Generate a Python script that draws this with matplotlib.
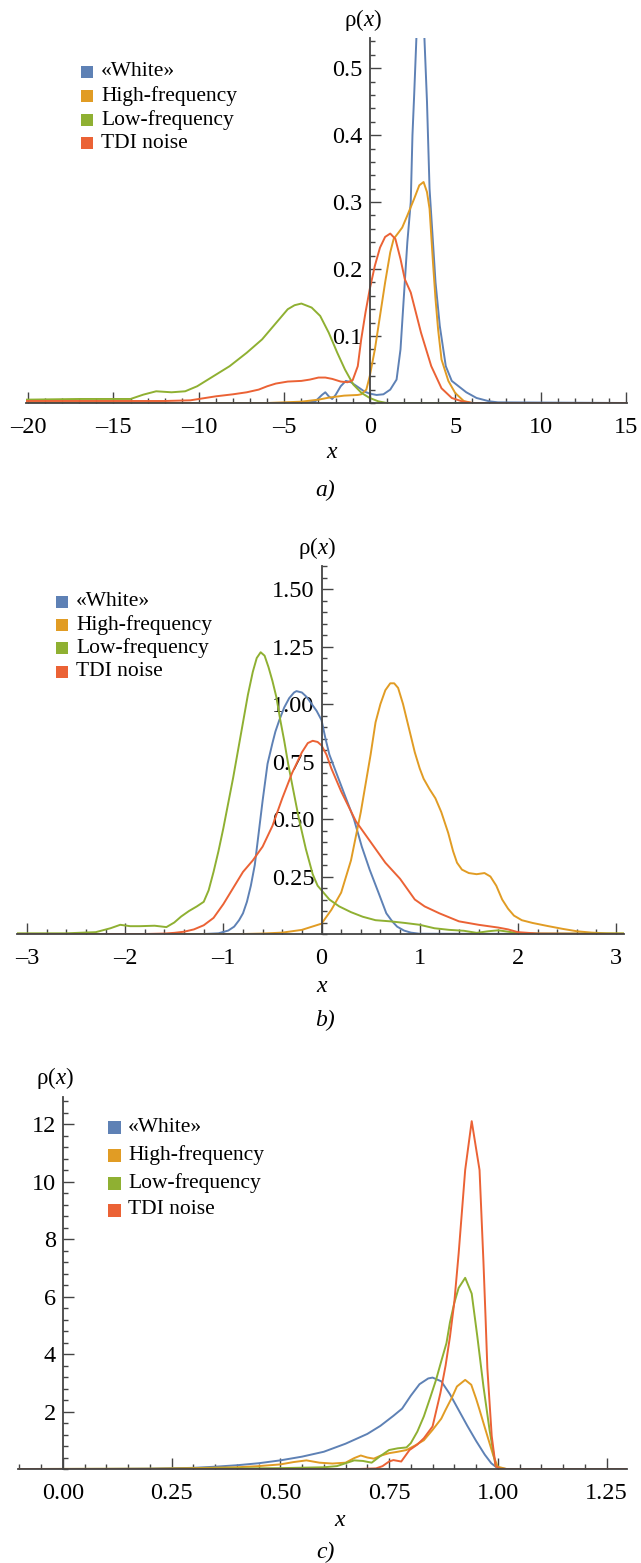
import matplotlib
matplotlib.use("Agg")
import matplotlib.pyplot as plt
from matplotlib.patches import Rectangle
from matplotlib.ticker import FixedLocator, MultipleLocator

plt.rcParams['font.family'] = ['Liberation Serif', 'DejaVu Serif']
plt.rcParams['mathtext.fontset'] = 'custom'
plt.rcParams['mathtext.rm'] = 'Liberation Serif'
plt.rcParams['mathtext.it'] = 'Liberation Serif:italic'

W, H = 641, 1563

series_names = ['«White»', 'High-frequency', 'Low-frequency', 'TDI noise']
series_colors = ['#5E81B5', '#E19C24', '#8FB032', '#EB6235']

# ---- panel a) ----
a_white_x = [-20.1, -4, -3.2, -2.8, -2.6, -2.4, -2.2, -2.0, -1.7, -1.4, -1.1, -0.7, -0.3, 0, 0.4, 0.8, 1.2,
             1.57, 1.8, 2.05, 2.2, 2.4, 2.5, 2.6, 2.73, 2.9, 3.0, 3.1, 3.2, 3.35, 3.5, 3.6, 3.85, 4.1, 4.45,
             4.8, 5.2, 5.65, 6.25, 7.0, 7.5, 15.05]
a_white_y = [0, 0, 0.002, 0.012, 0.016, 0.01, 0.006, 0.012, 0.025, 0.033, 0.031, 0.024, 0.017, 0.014, 0.012,
             0.013, 0.02, 0.035, 0.08, 0.18, 0.24, 0.3, 0.4, 0.46, 0.545, 0.62, 0.64, 0.62, 0.545, 0.45, 0.32,
             0.28, 0.18, 0.115, 0.055, 0.033, 0.025, 0.016, 0.0075, 0.0025, 0.001, 0]

a_high_x = [-20.1, -6, -4, -3, -2.4, -1.5, -0.7, -0.5, -0.2, 0, 0.3, 0.6, 0.9, 1.2, 1.4, 1.7, 1.9, 2.2, 2.6,
            2.9, 3.15, 3.35, 3.5, 3.6, 3.7, 3.85, 4.0, 4.2, 4.6, 5.0, 5.5, 6.0, 15.05]
a_high_y = [0, 0, 0.002, 0.005, 0.008, 0.011, 0.012, 0.013, 0.02, 0.04, 0.08, 0.13, 0.18, 0.225, 0.245, 0.255,
            0.262, 0.28, 0.305, 0.325, 0.33, 0.315, 0.29, 0.25, 0.21, 0.155, 0.11, 0.065, 0.033, 0.015, 0.003,
            0, 0]

a_low_x = [-20.1, -17, -15, -14, -13.25, -12.5, -11.6, -10.8, -10.1, -9.15, -8.2, -7.2, -6.3, -5.3, -4.8,
           -4.4, -4.0, -3.4, -2.9, -2.4, -1.9, -1.45, -0.96, -0.48, 0, 0.5, 1.0, 15.05]
a_low_y = [0.005, 0.006, 0.006, 0.006, 0.0125, 0.0175, 0.016, 0.0175, 0.025, 0.04, 0.055, 0.075, 0.095, 0.125,
           0.14, 0.146, 0.1485, 0.1425, 0.13, 0.105, 0.075, 0.05, 0.0275, 0.015, 0.0075, 0.0025, 0, 0]

a_tdi_x = [-20.1, -15, -12, -10.5, -10, -9, -8, -7.2, -6.5, -6, -5.5, -4.8, -4, -3.5, -3, -2.6, -2.2, -1.7,
           -1.3, -1.0, -0.7, -0.5, -0.25, 0, 0.3, 0.6, 0.9, 1.2, 1.5, 1.8, 2.05, 2.4, 3.0, 3.6, 4.2, 4.8, 5.4,
           6.0, 15.05]
a_tdi_y = [0.003, 0.003, 0.003, 0.004, 0.006, 0.01, 0.013, 0.016, 0.02, 0.025, 0.029, 0.032, 0.033, 0.035,
           0.038, 0.038, 0.036, 0.032, 0.031, 0.034, 0.055, 0.095, 0.135, 0.17, 0.205, 0.232, 0.248, 0.253,
           0.245, 0.215, 0.185, 0.165, 0.105, 0.055, 0.022, 0.0075, 0.0025, 0, 0]

# ---- panel b) ----
b_white_x = [-3.1, -1.2, -1.05, -0.95, -0.89, -0.84, -0.8, -0.76, -0.72, -0.68, -0.64, -0.6, -0.55, -0.5,
             -0.47, -0.43, -0.38, -0.33, -0.28, -0.255, -0.2, -0.15, -0.1, -0.05, 0, 0.04, 0.08, 0.16, 0.24,
             0.33, 0.41, 0.49, 0.58, 0.66, 0.72, 0.77, 0.84, 0.91, 1.0, 3.08]
b_white_y = [0, 0, 0.003, 0.015, 0.032, 0.06, 0.09, 0.14, 0.21, 0.3, 0.44, 0.58, 0.74, 0.83, 0.88, 0.93, 0.985,
             1.025, 1.05, 1.056, 1.05, 1.03, 1.0, 0.97, 0.93, 0.85, 0.78, 0.69, 0.6, 0.5, 0.38, 0.28, 0.18,
             0.09, 0.055, 0.032, 0.015, 0.006, 0.001, 0]

b_high_x = [-3.1, -0.8, -0.6, -0.4, -0.2, 0, 0.05, 0.1, 0.2, 0.3, 0.4, 0.5, 0.55, 0.6, 0.65, 0.7, 0.74,
            0.78, 0.83, 0.87, 0.91, 0.95, 1.0, 1.04, 1.1, 1.16, 1.22, 1.29, 1.34, 1.38, 1.43, 1.5, 1.58, 1.66,
            1.72, 1.78, 1.84, 1.9, 1.96, 2.04, 2.15, 2.3, 2.46, 2.6, 2.75, 2.9, 3.08]
b_high_y = [0, 0, 0.002, 0.006, 0.018, 0.045, 0.075, 0.105, 0.18, 0.32, 0.53, 0.78, 0.92, 1.0, 1.06, 1.09,
            1.09, 1.07, 1.0, 0.93, 0.86, 0.79, 0.72, 0.675, 0.63, 0.59, 0.53, 0.44, 0.36, 0.31, 0.28, 0.265,
            0.26, 0.265, 0.25, 0.21, 0.15, 0.11, 0.08, 0.06, 0.048, 0.035, 0.022, 0.012, 0.006, 0.003, 0.002]

b_low_x = [-3.1, -2.6, -2.3, -2.15, -2.05, -1.95, -1.85, -1.7, -1.58, -1.5, -1.43, -1.35, -1.27, -1.2,
           -1.15, -1.1, -1.05, -1.0, -0.95, -0.9, -0.85, -0.8, -0.75, -0.7, -0.66, -0.62, -0.58, -0.54, -0.5,
           -0.46, -0.42, -0.38, -0.34, -0.29, -0.23, -0.16, -0.09, -0.04, 0, 0.08, 0.18, 0.3, 0.42, 0.55,
           0.7, 0.85, 1.0, 1.15, 1.3, 1.45, 1.58, 1.7, 1.8, 1.9, 2.0, 2.2, 3.08]
b_low_y = [0.003, 0.003, 0.008, 0.025, 0.04, 0.034, 0.034, 0.036, 0.03, 0.05, 0.076, 0.1, 0.12, 0.14, 0.19,
           0.27, 0.36, 0.46, 0.57, 0.68, 0.8, 0.92, 1.04, 1.14, 1.2, 1.225, 1.21, 1.16, 1.1, 1.03, 0.93, 0.84,
           0.74, 0.63, 0.5, 0.37, 0.26, 0.21, 0.19, 0.15, 0.12, 0.095, 0.075, 0.06, 0.055, 0.048, 0.04, 0.025,
           0.018, 0.014, 0.005, 0.012, 0.016, 0.01, 0.004, 0.002, 0.002]

b_tdi_x = [-3.1, -1.8, -1.6, -1.5, -1.4, -1.3, -1.2, -1.1, -1.0, -0.9, -0.8, -0.7, -0.6, -0.5, -0.4, -0.3,
           -0.2, -0.14, -0.09, -0.04, 0, 0.05, 0.1, 0.2, 0.35, 0.5, 0.65, 0.8, 0.95, 1.05, 1.2, 1.4, 1.6, 1.8,
           1.9, 2.0, 2.2, 3.08]
b_tdi_y = [0, 0, 0.002, 0.005, 0.01, 0.02, 0.038, 0.07, 0.13, 0.2, 0.27, 0.32, 0.38, 0.47, 0.59, 0.7, 0.79,
           0.83, 0.84, 0.835, 0.82, 0.78, 0.72, 0.62, 0.49, 0.4, 0.31, 0.24, 0.15, 0.12, 0.09, 0.055, 0.04,
           0.028, 0.02, 0.008, 0.002, 0]

# ---- panel c) ----
c_white_x = [-0.1, 0.1, 0.2, 0.3, 0.35, 0.4, 0.45, 0.5, 0.55, 0.6, 0.65, 0.7, 0.73, 0.76, 0.78, 0.8, 0.82,
             0.84, 0.85, 0.87, 0.89, 0.91, 0.93, 0.95, 0.97, 0.985, 1.0, 1.02, 1.3]
c_white_y = [0, 0.002, 0.01, 0.04, 0.08, 0.13, 0.2, 0.3, 0.43, 0.6, 0.88, 1.22, 1.5, 1.85, 2.1, 2.55, 2.95,
             3.15, 3.18, 3.05, 2.6, 2.05, 1.5, 0.98, 0.5, 0.2, 0.02, 0, 0]

c_high_x = [-0.1, 0.2, 0.3, 0.4, 0.45, 0.5, 0.53, 0.56, 0.59, 0.62, 0.65, 0.67, 0.685, 0.7, 0.715, 0.73,
            0.75, 0.77, 0.79, 0.81, 0.83, 0.85, 0.87, 0.88, 0.895, 0.906, 0.925, 0.939, 0.95, 0.958, 0.97,
            0.981, 0.99, 1.0, 1.02, 1.3]
c_high_y = [0, 0.01, 0.03, 0.06, 0.1, 0.16, 0.24, 0.3, 0.22, 0.19, 0.22, 0.38, 0.47, 0.4, 0.36, 0.46, 0.55,
            0.6, 0.66, 0.82, 1.0, 1.36, 1.75, 2.06, 2.5, 2.87, 3.1, 2.93, 2.45, 2.06, 1.45, 0.9, 0.45, 0.08,
            0, 0]

c_low_x = [-0.1, 0.3, 0.5, 0.6, 0.63, 0.65, 0.67, 0.69, 0.71, 0.73, 0.75, 0.77, 0.79, 0.8, 0.815, 0.83,
           0.845, 0.858, 0.87, 0.882, 0.89, 0.9, 0.91, 0.925, 0.94, 0.953, 0.967, 0.981, 0.995, 1.005, 1.02,
           1.3]
c_low_y = [0, 0.01, 0.03, 0.06, 0.1, 0.2, 0.3, 0.28, 0.22, 0.45, 0.66, 0.72, 0.75, 0.9, 1.3, 1.83, 2.5, 3.1,
           3.75, 4.38, 5.1, 5.78, 6.3, 6.65, 6.1, 4.6, 2.87, 1.36, 0.1, 0.01, 0, 0]

c_tdi_x = [-0.1, 0.68, 0.72, 0.735, 0.75, 0.76, 0.778, 0.797, 0.815, 0.83, 0.85, 0.868, 0.88, 0.89, 0.9,
           0.91, 0.925, 0.94, 0.958, 0.967, 0.972, 0.976, 0.986, 0.995, 1.005, 1.02, 1.3]
c_tdi_y = [0, 0, 0.02, 0.1, 0.26, 0.31, 0.26, 0.66, 0.85, 1.07, 1.48, 2.64, 3.6, 4.6, 5.8, 7.5, 10.4, 12.1,
           10.4, 7.2, 5.2, 3.5, 1.15, 0.1, 0.01, 0, 0]

a_xticks = [-20, -15, -10, -5, 0, 5, 10, 15]
a_yticks = [0.1, 0.2, 0.3, 0.4, 0.5]
a_ylabels = ['0.1', '0.2', '0.3', '0.4', '0.5']
b_xticks = [-3, -2, -1, 0, 1, 2, 3]
b_yticks = [0.25, 0.5, 0.75, 1.0, 1.25, 1.5]
b_ylabels = ['0.25', '0.50', '0.75', '1.00', '1.25', '1.50']
c_xticks = [0, 0.25, 0.5, 0.75, 1.0, 1.25]
c_xlabels = ['0.00', '0.25', '0.50', '0.75', '1.00', '1.25']
c_yticks = [2, 4, 6, 8, 10, 12]
c_ylabels = ['2', '4', '6', '8', '10', '12']

AXIS_COLOR = '#444444'


def fx(x):
    return x / W


def fy(y):
    return 1 - y / H


def make_axes(fig, left, right, top, bottom):
    '''Axes box from pixel edges.'''
    return fig.add_axes([fx(left), fy(bottom), (right - left) / W, (bottom - top) / H])


def style_axes(ax, xlim, ylim, xticks, xlabels, yticks, ylabels, xminor, yminor):
    ax.set_xlim(*xlim)
    ax.set_ylim(*ylim)
    for side in ['top', 'right']:
        ax.spines[side].set_visible(False)
    ax.spines['left'].set_position(('data', 0))
    ax.spines['bottom'].set_position(('data', 0))
    for side in ['left', 'bottom']:
        ax.spines[side].set_color(AXIS_COLOR)
        ax.spines[side].set_linewidth(1.3)
    ax.xaxis.set_major_locator(FixedLocator(xticks))
    ax.xaxis.set_minor_locator(MultipleLocator(xminor))
    ax.yaxis.set_major_locator(FixedLocator(yticks))
    ax.yaxis.set_minor_locator(MultipleLocator(yminor))
    ax.set_xticklabels(xlabels)
    ax.set_yticklabels(ylabels)
    ax.tick_params(which='both', direction='in', color=AXIS_COLOR, width=1.0, labelsize=17.5)
    ax.tick_params(which='major', length=8)
    ax.tick_params(which='minor', length=3.5)
    ax.tick_params(axis='x', which='major', pad=10)
    ax.tick_params(axis='y', which='major', pad=5)
    ax.patch.set_alpha(0)


def draw_legend(fig, sq_left, text_left, rows, size=12):
    for name, color, yc in zip(series_names, series_colors, rows):
        fig.add_artist(Rectangle((fx(sq_left), fy(yc + size / 2)), size / W, size / H,
                                 transform=fig.transFigure, facecolor=color, edgecolor='none'))
        fig.text(fx(text_left), fy(yc), name, fontsize=15.5, ha='left', va='center')


fig = plt.figure(figsize=(W / 100, H / 100), dpi=100)

# a) wide range
ax_a = make_axes(fig, 26.3, 626.9, 38, 403)
for xs, ys, col in zip([a_white_x, a_high_x, a_low_x, a_tdi_x],
                       [a_white_y, a_high_y, a_low_y, a_tdi_y], series_colors):
    ax_a.plot(xs, ys, color=col, lw=1.4)
style_axes(ax_a, (-20.1, 15.05), (0, 0.545), a_xticks,
           [str(t).replace('-', '–') for t in a_xticks], a_yticks, a_ylabels, 1, 0.02)
fig.text(fx(363), fy(20), 'ρ($x$)', fontsize=16.5, ha='center', va='center')
fig.text(fx(332), fy(453), 'x', fontsize=17, style='italic', ha='center', va='center')
fig.text(fx(325), fy(490), 'a)', fontsize=17, style='italic', ha='center', va='center')
draw_legend(fig, 81, 101, [72, 96, 120, 143])

# b) normalised range
ax_b = make_axes(fig, 17.2, 623.9, 566, 934)
for xs, ys, col in zip([b_white_x, b_high_x, b_low_x, b_tdi_x],
                       [b_white_y, b_high_y, b_low_y, b_tdi_y], series_colors):
    ax_b.plot(xs, ys, color=col, lw=1.4)
style_axes(ax_b, (-3.1, 3.08), (0, 1.6), b_xticks,
           [str(t).replace('-', '–') for t in b_xticks], b_yticks, b_ylabels, 0.2, 0.05)
fig.text(fx(317), fy(548), 'ρ($x$)', fontsize=16.5, ha='center', va='center')
fig.text(fx(322), fy(987), 'x', fontsize=17, style='italic', ha='center', va='center')
fig.text(fx(325), fy(1020), 'b)', fontsize=17, style='italic', ha='center', va='center')
draw_legend(fig, 56, 76, [602, 625, 648, 672])

# c) unit range
ax_c = make_axes(fig, 18.0, 627.0, 1097, 1469)
for xs, ys, col in zip([c_white_x, c_high_x, c_low_x, c_tdi_x],
                       [c_white_y, c_high_y, c_low_y, c_tdi_y], series_colors):
    ax_c.plot(xs, ys, color=col, lw=1.4)
style_axes(ax_c, (-0.103, 1.297), (0, 12.94), c_xticks, c_xlabels,
           c_yticks, c_ylabels, 0.05, 0.4)
fig.text(fx(55), fy(1078), 'ρ($x$)', fontsize=16.5, ha='center', va='center')
fig.text(fx(340), fy(1520), 'x', fontsize=17, style='italic', ha='center', va='center')
fig.text(fx(325), fy(1552), 'c)', fontsize=17, style='italic', ha='center', va='center')
draw_legend(fig, 108, 128, [1127, 1155, 1183, 1210], size=13)

fig.savefig('out.png', dpi=100)
